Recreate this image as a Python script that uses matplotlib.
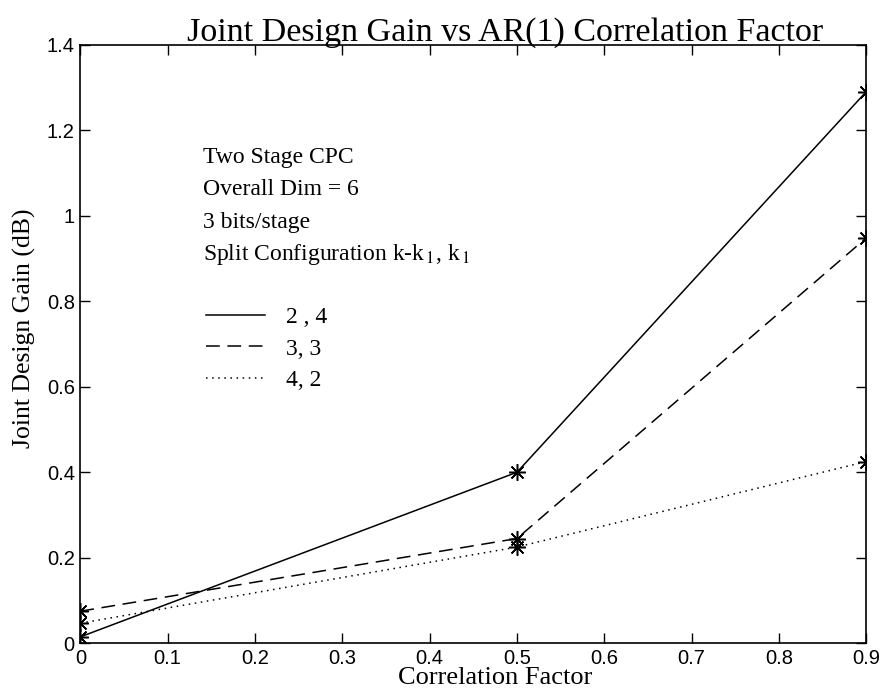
import matplotlib
matplotlib.use('Agg')
import matplotlib.pyplot as plt
from matplotlib.ticker import FormatStrFormatter

plt.rcParams['mathtext.fontset'] = 'stix'

# data
corr = [0, 0.5, 0.9]
gain_24 = [0.015, 0.40, 1.29]
gain_33 = [0.075, 0.245, 0.948]
gain_42 = [0.047, 0.225, 0.425]
split_labels = ['2 , 4', '3, 3', '4, 2']
info_lines = ['Two Stage CPC', 'Overall Dim = 6', '3 bits/stage',
              r'Split Configuration k-k$_{\,1}$, k$_{\,1}$']

serif = 'Liberation Serif'
sans = 'Liberation Sans'

fig = plt.figure(figsize=(8.83, 6.88), dpi=100)
ax = fig.add_axes([0.091, 0.065, 0.890, 0.870])

star = (8, 2, 0)
l1, = ax.plot(corr, gain_24, color='black', lw=1.1, ls='-', marker=star, ms=12, mew=1.1)
l2, = ax.plot(corr, gain_33, color='black', lw=1.1, ls=(0, (9, 5)), marker=star, ms=12, mew=1.1)
l3, = ax.plot(corr, gain_42, color='black', lw=1.1, ls=(0, (1, 3)), marker=star, ms=12, mew=1.1)

ax.set_xlim(0, 0.9)
ax.set_ylim(0, 1.4)
ax.set_xticks([i / 10 for i in range(10)])
ax.set_yticks([i / 5 for i in range(8)])
ax.xaxis.set_major_formatter(FormatStrFormatter('%g'))
ax.yaxis.set_major_formatter(FormatStrFormatter('%g'))
ax.tick_params(direction='in', length=7, width=1, top=True, right=True,
               labelsize=14.5, pad=4)
for lab in ax.get_xticklabels() + ax.get_yticklabels():
    lab.set_fontfamily(sans)
for s in ax.spines.values():
    s.set_linewidth(1.2)

ax.set_title('Joint Design Gain vs AR(1) Correlation Factor', family=serif,
             fontsize=24.5, pad=3, x=0.54)
ax.set_xlabel('Correlation Factor', family=serif, fontsize=19)
ax.xaxis.set_label_coords(0.528, -0.039)
ax.set_ylabel('Joint Design Gain (dB)', family=serif, fontsize=18.5)
ax.yaxis.set_label_coords(-0.056, 0.527)

for i, t in enumerate(info_lines):
    ax.text(0.140, 1.136 - i * 0.0755, t, family=serif, fontsize=17,
            va='center', ha='left')

leg = ax.legend([l1, l2, l3], split_labels, loc='upper left',
                bbox_to_anchor=(0.133, 0.598), frameon=False,
                prop={'family': serif, 'size': 17}, handlelength=2.5,
                handletextpad=0.9, labelspacing=0.42, markerscale=0)
for h in leg.legend_handles:
    h.set_marker('')

fig.savefig('out.png', dpi=100)
